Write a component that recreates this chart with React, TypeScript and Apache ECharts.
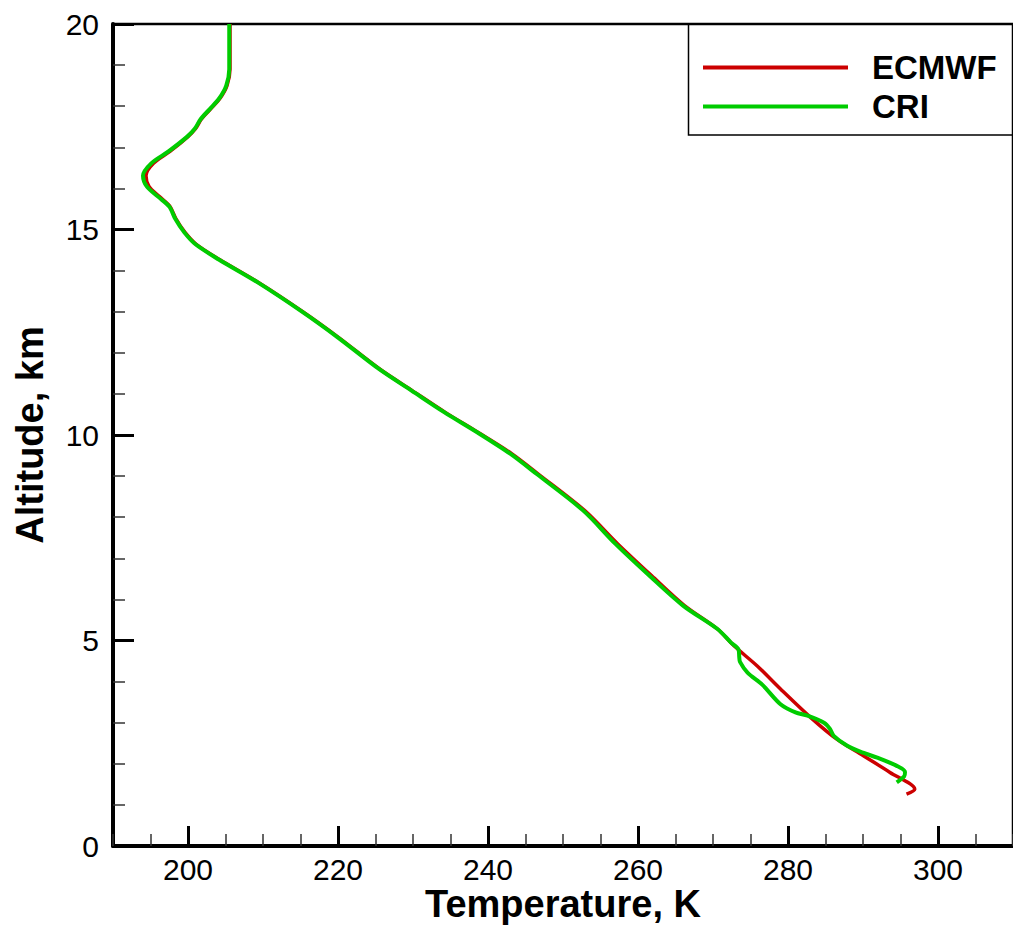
import React, { useEffect, useRef } from "react";
import * as echarts from "echarts";

const ecmwfTemp = [205.6, 205.6, 205.2, 204.3, 203.0, 201.8, 201.0, 200.0, 197.6, 195.4, 194.4, 194.8, 196.2, 197.6, 198.4, 199.6, 201.1, 204.2, 209.5, 215.3, 220.1, 225.6, 229.9, 234.3, 238.7, 243.2, 246.7, 252.9, 257.3, 261.8, 266.2, 270.6, 272.8, 275.9, 279.0, 283.0, 286.5, 290.0, 293.6, 296.9, 295.8];
const ecmwfAlt = [20.0, 18.9, 18.5, 18.2, 17.93, 17.69, 17.45, 17.26, 16.9, 16.61, 16.31, 16.05, 15.8, 15.56, 15.26, 14.93, 14.64, 14.27, 13.7, 13.0, 12.37, 11.6, 11.08, 10.55, 10.06, 9.54, 9.05, 8.16, 7.35, 6.58, 5.85, 5.28, 4.87, 4.38, 3.82, 3.13, 2.6, 2.2, 1.79, 1.38, 1.26];

const criTemp = [205.5, 205.5, 205.1, 204.2, 202.9, 201.7, 200.9, 199.9, 197.4, 195.1, 194.0, 194.5, 196.0, 197.5, 198.3, 199.5, 201.0, 204.1, 209.4, 215.2, 220.0, 225.5, 229.8, 234.2, 238.6, 243.0, 246.5, 252.7, 257.0, 261.5, 266.0, 270.6, 272.4, 273.4, 273.5, 273.6, 274.6, 276.6, 279.0, 281.0, 282.6, 284.8, 285.6, 286.1, 287.9, 290.0, 291.9, 294.5, 295.6, 295.5, 294.5];
const criAlt = [20.0, 18.9, 18.5, 18.2, 17.93, 17.69, 17.45, 17.26, 16.9, 16.61, 16.31, 16.05, 15.8, 15.56, 15.26, 14.93, 14.64, 14.27, 13.7, 13.0, 12.37, 11.6, 11.08, 10.55, 10.06, 9.54, 9.05, 8.16, 7.35, 6.58, 5.85, 5.28, 4.95, 4.78, 4.6, 4.48, 4.22, 3.92, 3.45, 3.25, 3.17, 3.0, 2.85, 2.68, 2.44, 2.27, 2.15, 1.95, 1.8, 1.7, 1.55];

const xMajorTicks = [200, 220, 240, 260, 280, 300];
const seriesNames = ["ECMWF", "CRI"];

const FONT = "Liberation Sans, Arial, sans-serif";

export default function App() {
  const ref = useRef<HTMLDivElement>(null);
  useEffect(() => {
    if (!ref.current) return;
    const chart = echarts.init(ref.current, null, { renderer: "svg" });
    const ecmwf = ecmwfTemp.map((t, i) => [t, ecmwfAlt[i]]);
    const cri = criTemp.map((t, i) => [t, criAlt[i]]);
    chart.setOption({
      animation: false,
      backgroundColor: "#ffffff",
      grid: {
        left: 113,
        top: 24,
        width: 904,
        height: 823,
        show: true,
        borderColor: "#000",
        borderWidth: 2.5,
        containLabel: false,
      },
      legend: {
        orient: "vertical",
        left: 698,
        top: 46,
        itemWidth: 145,
        itemHeight: 4,
        itemGap: 6,
        data: [
          { name: seriesNames[0], icon: "rect" },
          { name: seriesNames[1], icon: "rect" },
        ],
        textStyle: {
          fontFamily: FONT,
          fontSize: 33,
          fontWeight: "bold",
          color: "#000",
          lineHeight: 33,
          padding: [0, 0, 0, 19],
        },
      },
      graphic: [
        {
          type: "rect",
          shape: { x: 688.5, y: 24, width: 400, height: 111 },
          style: { fill: "transparent", stroke: "#000", lineWidth: 1.5 },
          z: 1,
        },
      ],
      xAxis: [
        {
          type: "value",
          min: 190,
          max: 310,
          interval: 5,
          position: "bottom",
          axisLine: { show: true, lineStyle: { color: "#000", width: 4 } },
          axisTick: { show: true, inside: true, length: 12, lineStyle: { color: "#333", width: 1.5 } },
          axisLabel: { show: false },
          splitLine: { show: false },
          name: "Temperature, K",
          nameLocation: "middle",
          nameGap: 39,
          nameTextStyle: { fontFamily: FONT, fontSize: 38, fontWeight: "bold", color: "#000" },
        },
        {
          type: "value",
          min: 190,
          max: 310,
          position: "bottom",
          axisLine: { show: false },
          axisTick: {
            show: true,
            inside: true,
            length: 20,
            customValues: xMajorTicks,
            lineStyle: { color: "#000", width: 3 },
          },
          axisLabel: {
            show: true,
            customValues: xMajorTicks,
            margin: 8,
            fontFamily: FONT,
            fontSize: 30,
            color: "#000",
          },
          splitLine: { show: false },
        },
      ],
      yAxis: {
        type: "value",
        min: 0,
        max: 20,
        interval: 5,
        axisLine: { show: true, lineStyle: { color: "#000", width: 4 } },
        axisTick: { show: true, inside: true, length: 21, lineStyle: { color: "#000", width: 3 } },
        minorTick: { show: true, splitNumber: 5, length: 12, lineStyle: { color: "#333", width: 1.5 } },
        axisLabel: { margin: 14, fontFamily: FONT, fontSize: 30, color: "#000" },
        splitLine: { show: false },
        name: "Altitude, km",
        nameLocation: "middle",
        nameGap: 64,
        nameTextStyle: { fontFamily: FONT, fontSize: 38, fontWeight: "bold", color: "#000" },
      },
      series: [
        {
          name: seriesNames[0],
          type: "line",
          data: ecmwf,
          xAxisIndex: 0,
          showSymbol: false,
          smooth: 0.3,
          lineStyle: { color: "#cc0000", width: 3.5 },
          itemStyle: { color: "#cc0000" },
          z: 3,
        },
        {
          name: seriesNames[1],
          type: "line",
          data: cri,
          xAxisIndex: 0,
          showSymbol: false,
          smooth: 0.3,
          lineStyle: { color: "#00cc00", width: 4 },
          itemStyle: { color: "#00cc00" },
          z: 4,
        },
      ],
    });
    return () => chart.dispose();
  }, []);
  return (
    <div
      ref={ref}
      style={{ position: "fixed", left: 0, top: 0, width: 1013, height: 928, background: "#fff" }}
    />
  );
}
